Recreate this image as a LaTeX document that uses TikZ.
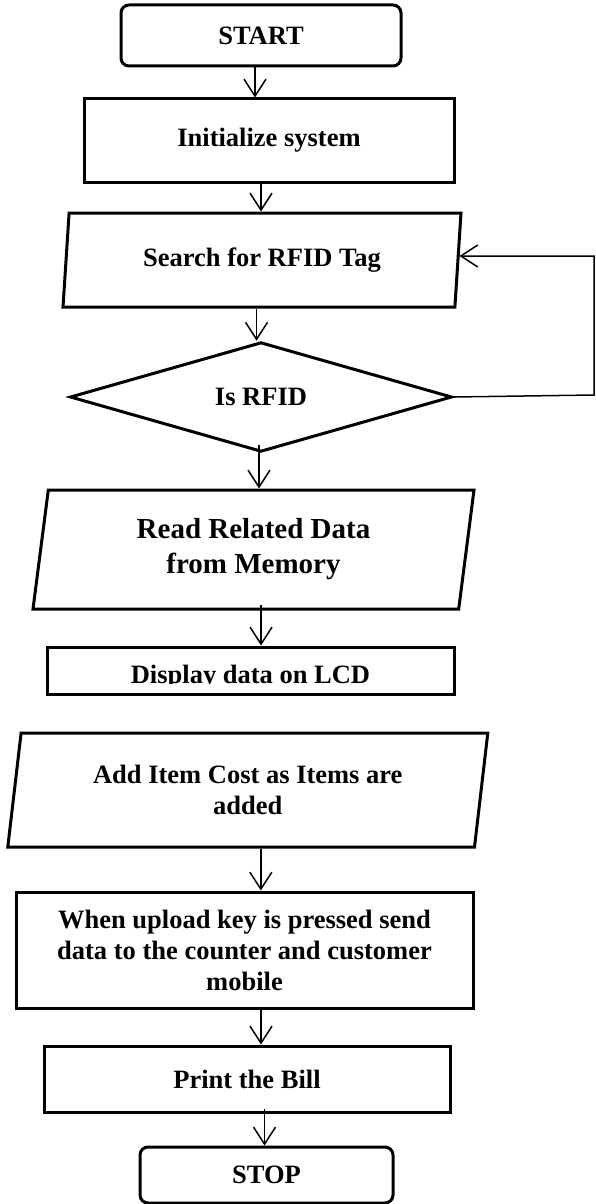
\documentclass[tikz,border=0pt]{standalone}
\usepackage{fontspec}
\setmainfont{Liberation Serif}
\usetikzlibrary{shapes.geometric,arrows.meta,calc}
\begin{document}
\begin{tikzpicture}[x=1pt,y=-1pt,
  every node/.style={font=\bfseries\fontsize{26.5}{31}\selectfont, align=center, inner sep=0pt},
  box/.style={draw, line width=3pt, rectangle},
  term/.style={draw, line width=3pt, rounded corners=8pt, rectangle},
  io/.style={draw, line width=3pt, trapezium, trapezium stretches body},
  decision/.style={draw, line width=3pt, diamond},
  arr/.style={line width=1.5pt, -{Straight Barb[length=17pt,width=22pt]}},
]
\useasboundingbox (0,0) rectangle (595,1204);

% flowchart blocks
\node[term, minimum width=280, minimum height=61] (start) at (261,35.5) {START};
\node[box, minimum width=370, minimum height=83] (init) at (269,140.5) {Initialize system};
\node[io, trapezium left angle=76, trapezium right angle=104,
      minimum width=398, minimum height=94] (search) at (262,260) {Search for RFID Tag};
\node[decision, minimum width=382, minimum height=107] (dia) at (261,397) {Is RFID};
\node[io, trapezium left angle=76, trapezium right angle=104,
      minimum width=441, minimum height=119,
      font=\bfseries\fontsize{29}{35}\selectfont] (read) at (253.5,549.5) {Read Related Data\\from Memory};
\node[box, minimum width=407, minimum height=47] (disp) at (250.5,670.5) {};
\begin{scope}
  \clip (disp.north west) rectangle (disp.east |- 0,683.5);
  \node[anchor=base] (disptext) at (250.5,683) {Display data on LCD};
\end{scope}
\node[io, trapezium left angle=75, trapezium right angle=105,
      minimum width=480, minimum height=114] (add) at (247.8,790) {Add Item Cost as Items are\\added};
\node[box, minimum width=457, minimum height=116] (send) at (244.5,950)
  {When upload key is pressed send\\data to the counter and customer\\mobile};
\node[box, minimum width=406, minimum height=66] (print) at (247,1079) {Print the Bill};
\node[term, minimum width=253, minimum height=56] (stop) at (266.5,1175) {STOP};

% flow connectors
\draw[arr] ([xshift=-6pt]start.south) -- ([xshift=-6pt]start.south |- init.north);
\draw[arr] ([xshift=-8pt]init.south) -- ([xshift=-8pt]init.south |- search.north);
\draw[arr] ([xshift=-5.5pt]search.south) -- ([xshift=-5.5pt]search.south |- dia.north);
\draw[arr] ([xshift=-2pt,yshift=8pt]dia.south) -- ([xshift=-2pt]dia.south |- read.north);
\draw[arr] ([xshift=7.5pt,yshift=6pt]read.south) -- ([xshift=7.5pt]read.south |- disp.north);
\draw[arr] ([xshift=13pt]add.south) -- ([xshift=13pt]add.south |- send.north);
\draw[arr] ([xshift=16.5pt]send.south) -- ([xshift=16.5pt]send.south |- print.north);
\draw[arr] ([xshift=17.5pt,yshift=5pt]print.south) -- ([xshift=17.5pt]print.south |- stop.north);

% loop back when no tag is found
\coordinate (turnlow) at (594,395);
\coordinate (turnhigh) at (594,256);
\draw[arr] (dia.east) -- (turnlow) -- (turnhigh) -- ([yshift=4pt]search.east);
\end{tikzpicture}
\end{document}
